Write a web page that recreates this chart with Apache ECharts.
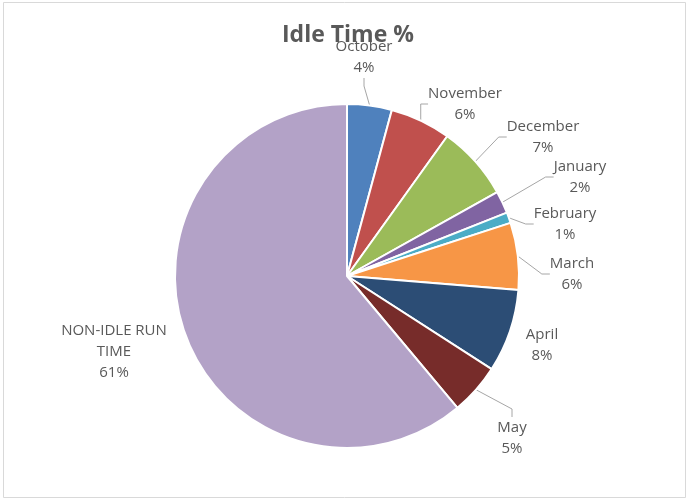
<!DOCTYPE html>
<html>
<head>
<meta charset="utf-8">
<script src="https://cdn.jsdelivr.net/npm/echarts@6/dist/echarts.min.js"></script>
<style>html,body{margin:0;padding:0;background:#fff}#c{width:687px;height:499px}</style>
</head>
<body>
<div id="c"></div>
<script>
const titleText = 'Idle Time %';
const categories = ['October','November','December','January','February','March','April','May','NON-IDLE RUN\nTIME'];
const values = [4.2, 5.7, 7.0, 2.1, 1.0, 6.3, 7.8, 4.8, 61.1];
const colors = ['#4F81BD','#C0504D','#9BBB59','#8064A2','#4BACC6','#F79646','#2C4D75','#772C2A','#B3A2C7'];

// label block centers (layout only)
const labelPos = [[364,57],[465,104],[543,137],[580,177],[565,224],[572,274],[542,345],[512,438],[114,352]];
const noLine = {6:true, 8:true};

const chart = echarts.init(document.getElementById('c'), null, {renderer:'canvas'});
chart.setOption({
  animation:false,
  backgroundColor:'#fff',
  title:{text:titleText,left:277,top:19,textStyle:{fontFamily:'Open Sans',fontWeight:'bold',fontSize:23,color:'#595959'}},
  graphic:[{type:'rect',shape:{x:3.5,y:2.5,width:682,height:495},style:{fill:'none',stroke:'#d9d9d9',lineWidth:1},silent:true,z:-1}],
  series:[{
    type:'pie',
    center:[347,276],
    radius:[0,172],
    startAngle:90,
    clockwise:true,
    percentPrecision:0,
    avoidLabelOverlap:false,
    itemStyle:{borderColor:'#fff',borderWidth:2},
    label:{show:true,position:'outside',formatter:'{b}\n{d}%',fontFamily:'Open Sans',fontSize:15,lineHeight:21,color:'#595959',align:'center'},
    labelLine:{show:true,length:10,length2:8,lineStyle:{color:'#a6a6a6',width:1}},
    labelLayout:function(p){
      const q = labelPos[p.dataIndex];
      return {x:q[0],y:q[1],align:'center',verticalAlign:'middle'};
    },
    data:categories.map((c,i)=>({name:c,value:values[i],itemStyle:{color:colors[i]},labelLine:{show:!noLine[i]}}))
  }]
});
</script>
</body>
</html>
